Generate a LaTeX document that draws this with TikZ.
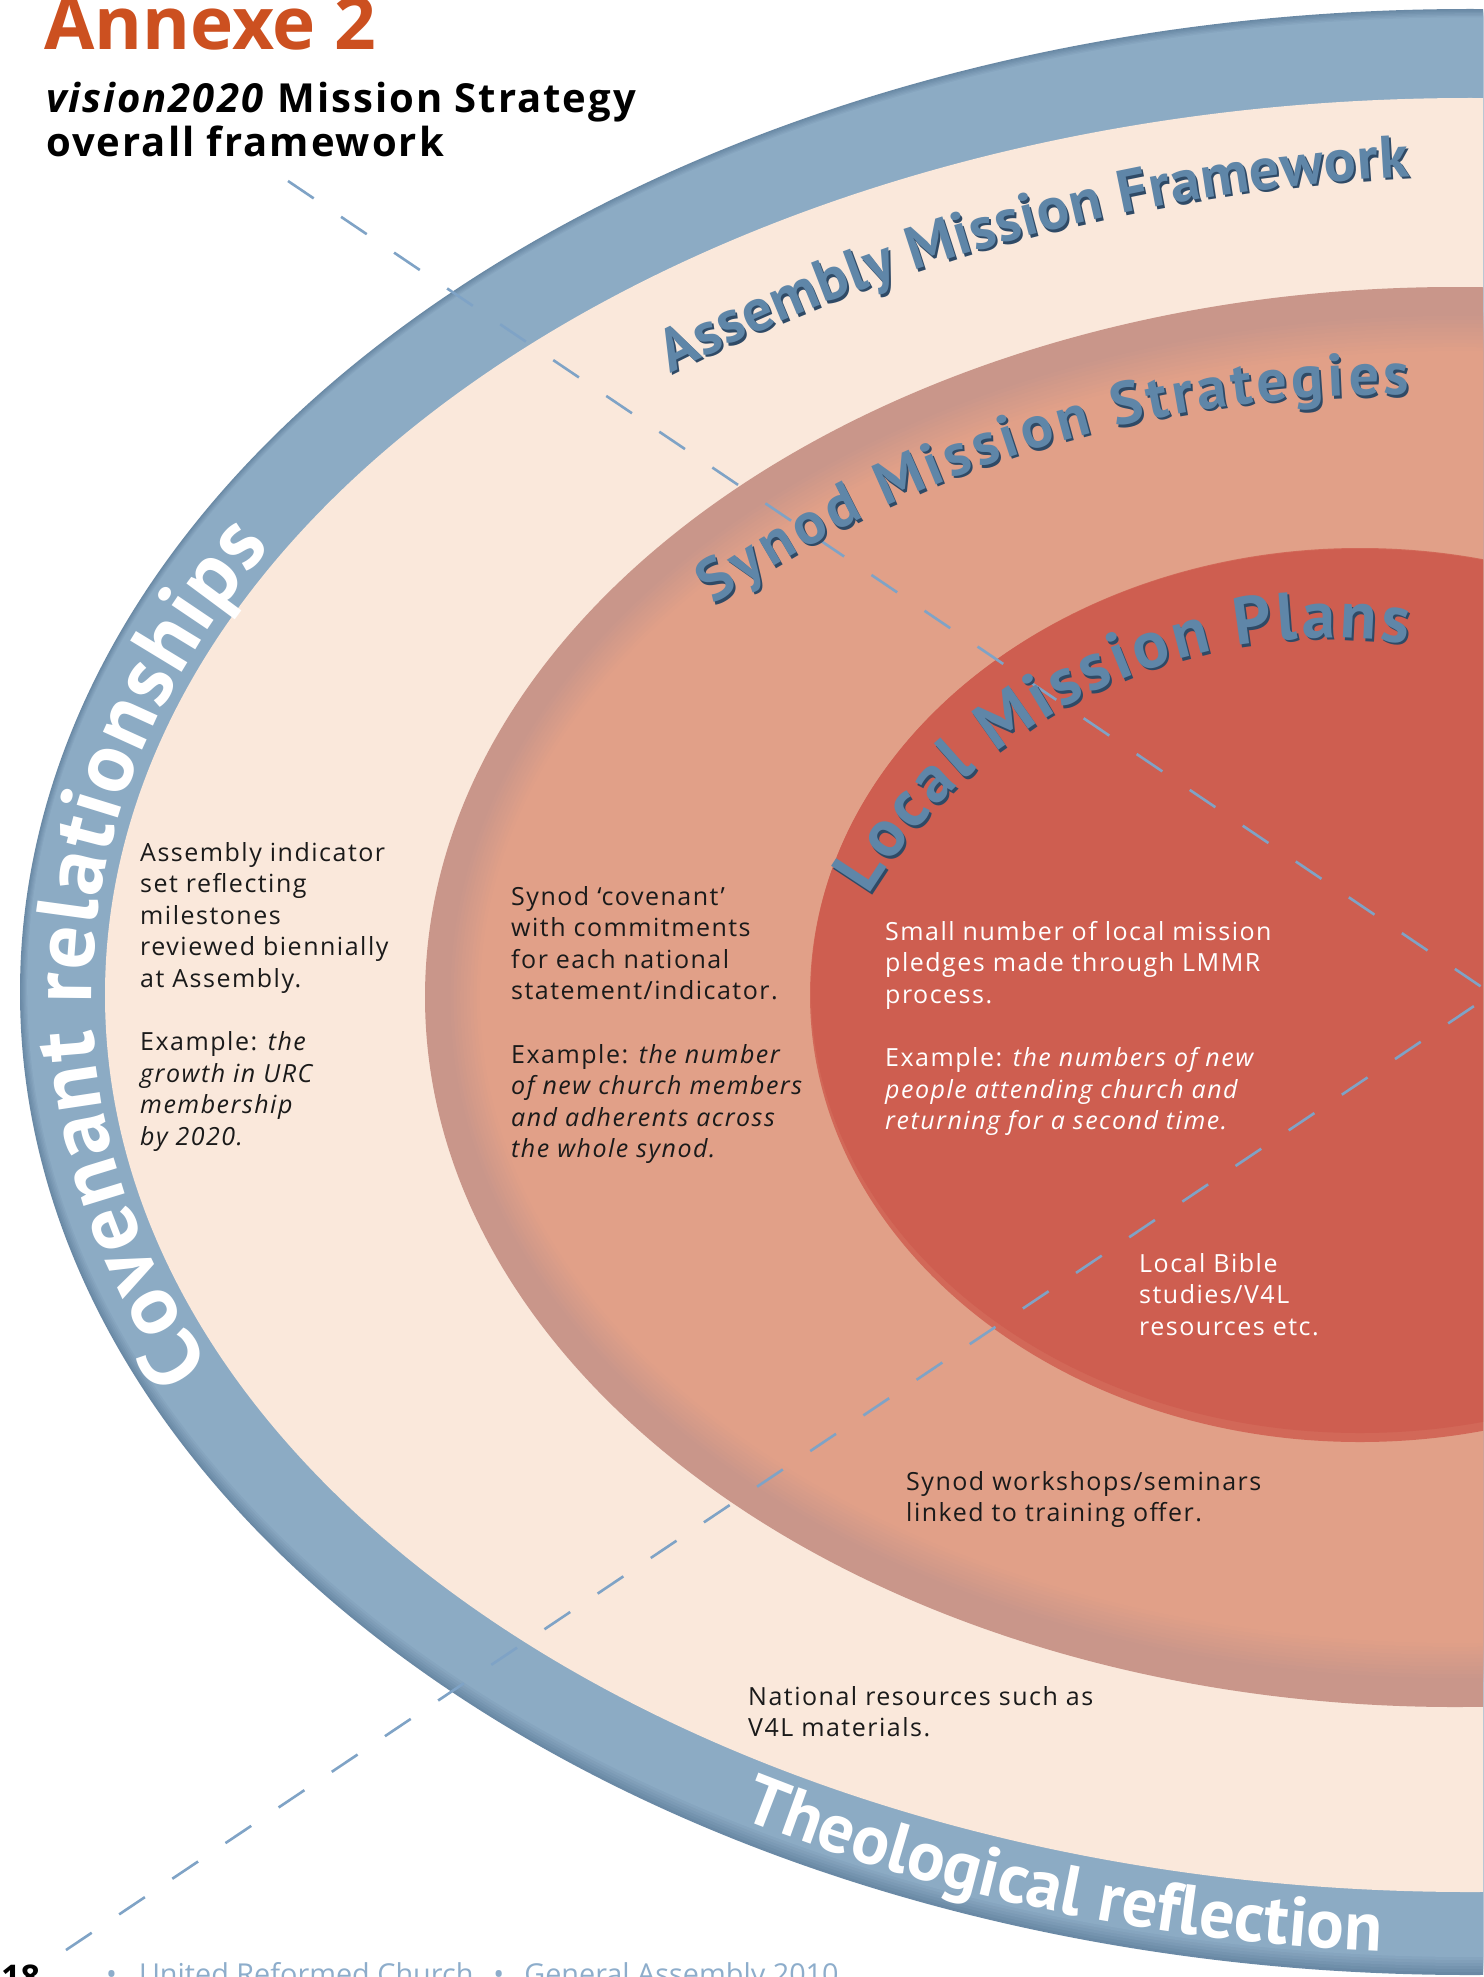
\documentclass[tikz,border=0pt]{standalone}
\usepackage{fontspec}
\setmainfont{Open Sans}
\newfontfamily\ringfont{PT Sans}
\newfontfamily\subfam[LetterSpace=5]{Open Sans}
\newfontfamily\bodyfam[LetterSpace=6]{Open Sans}
\usetikzlibrary{decorations.text}

\definecolor{bluedark}{HTML}{6A89A5}
\definecolor{bandblue}{HTML}{8CABC4}
\definecolor{cream}{HTML}{FAE8DB}
\definecolor{salrim}{HTML}{C9968A}
\definecolor{salface}{HTML}{E1A088}
\definecolor{redrim}{HTML}{D26858}
\definecolor{redface}{HTML}{CE5E50}
\definecolor{dashblue}{HTML}{7FA3C6}
\definecolor{labelblue}{HTML}{5F86A8}
\definecolor{labelshadow}{HTML}{2F4A66}
\definecolor{titleorange}{HTML}{CC5020}
\definecolor{textblack}{HTML}{1A1A1A}
\definecolor{footblue}{HTML}{8DADCB}

\newcommand\labfont{\ringfont\bfseries\fontsize{60}{66}\selectfont}
\newcommand\locfont{\ringfont\bfseries\fontsize{67}{72}\selectfont}
\newcommand\covfont{\ringfont\bfseries\fontsize{86}{90}\selectfont}
\newcommand\theofont{\ringfont\bfseries\fontsize{70}{74}\selectfont}
\newcommand\embosslabel[3]{%
  \begin{scope}[shift={(2,2.5)}]
    \path[decorate,decoration={text along path,text align=fit to path,text color=labelshadow,text={|#3|#2}}] #1;
  \end{scope}
  \path[decorate,decoration={text along path,text align=fit to path,text color=labelblue,text={|#3|#2}}] #1;}

\tikzset{
  guide/.style={draw=dashblue, line width=2.6pt, dash pattern=on 31pt off 33pt},
  body/.style={anchor=base west, inner sep=0pt, font=\bodyfam\fontsize{25}{31.6}\selectfont, text=textblack},
  bodywhite/.style={body, text=white},
}

\begin{document}
\begin{tikzpicture}[x=1pt,y=-1pt]
\useasboundingbox (0,0) rectangle (1483,1977);
\clip (0,0) rectangle (1483,1977);
\fill[white] (0,0) rectangle (1483,1977);

% outer blue band
\fill[bluedark] (1470,992) ellipse[x radius=1450, y radius=983];
\foreach \i in {1,...,6}{
  \pgfmathtruncatemacro\p{\i*100/6}
  \fill[bandblue!\p!bluedark] (1470,{992-0.8*\i}) ellipse[x radius={1450-1.2*\i}, y radius={983-2.2*\i}];
}
% cream ring
\fill[cream] (1470,995) ellipse[x radius=1365, y radius=897];
% salmon ring with bevel
\fill[salrim] (1455,997) ellipse[x radius=1030, y radius=710];
\foreach \i in {0,...,10}{
  \pgfmathtruncatemacro\p{\i*10}
  \fill[salface!\p!salrim] (1455,997) ellipse[x radius={1008-3.3*\i}, y radius={685-3.9*\i}];
}
% red core
\fill[redrim] (1360,995) ellipse[x radius=550, y radius=447];
\fill[redface] (1360,991) ellipse[x radius=549, y radius=442];

% dashed guides
\coordinate (dashA) at (288,181);
\coordinate (dashV) at (1492,994);
\coordinate (dashB) at (66,1950);
\draw[guide] (dashA) -- (dashV);
\draw[guide] (dashB) -- (dashV);

% curved ring labels
\embosslabel{(1502,2009) ++(-116.96:1835) arc[start angle=-116.96, end angle=-92.9, radius=1835]}{Assembly Mission Framework}{\labfont}
\embosslabel{(1390,1589) ++(-124.5:1194) arc[start angle=-124.5, end angle=-89.1, radius=1194]}{Synod Mission Strategies}{\labfont}
\embosslabel{(1330,1180) ++(-148.4:542) arc[start angle=-148.4, end angle=-81.8, radius=542]}{Local Mission Plans}{\locfont}

\path[decorate,decoration={text along path,text align=fit to path,text color=white,text={|\covfont|Covenant relationships}}]
  (1470,995) ++(-204:1378 and 910) arc[start angle=-204, end angle=-150.5, x radius=1378, y radius=910];
\path[decorate,decoration={text along path,text align=fit to path,text color=white,text={|\theofont|Theological reflection}}]
  (1470,992) ++(-239.3:1428 and 961) arc[start angle=-239.3, end angle=-266.4, x radius=1428, y radius=961];

% body texts
\node[body] (asm) at (140,861) {\begin{tabular}[t]{@{}l@{}}Assembly indicator\\set reflecting\\milestones\\reviewed biennially\\at Assembly.\\[31.6pt]Example: \textit{the}\\\textit{growth in URC}\\\textit{membership}\\\textit{by 2020.}\end{tabular}};
\node[body] (syn) at (511,905) {\begin{tabular}[t]{@{}l@{}}Synod ‘covenant’\\with commitments\\for each national\\statement/indicator.\\[31.6pt]Example: \textit{the number}\\\textit{of new church members}\\\textit{and adherents across}\\\textit{the whole synod.}\end{tabular}};
\node[bodywhite] (loc) at (885,940) {\begin{tabular}[t]{@{}l@{}}Small number of local mission\\pledges made through LMMR\\process.\\[31.6pt]Example: \textit{the numbers of new}\\\textit{people attending church and}\\\textit{returning for a second time.}\end{tabular}};
\node[bodywhite] (bible) at (1139,1272) {\begin{tabular}[t]{@{}l@{}}Local Bible\\studies/V4L\\resources etc.\end{tabular}};
\node[body] (work) at (906,1490) {\begin{tabular}[t]{@{}l@{}}Synod workshops/seminars\\linked to training offer.\end{tabular}};
\node[body] (nat) at (748,1705) {\begin{tabular}[t]{@{}l@{}}National resources such as\\V4L materials.\end{tabular}};

% title
\node[anchor=base west, inner sep=0pt, text=titleorange, font=\fontsize{73}{73}\selectfont\bfseries] (title) at (44,50) {Annexe 2};
\node[anchor=base west, inner sep=0pt, font=\subfam\bfseries\fontsize{40}{43}\selectfont] (sub) at (46,113) {\begin{tabular}[t]{@{}l@{}}\textit{vision2020} Mission Strategy\\overall framework\end{tabular}};

% footer
\node[anchor=base west, inner sep=0pt, font=\fontsize{34}{34}\selectfont\bfseries] (page) at (1,1989) {18};
\node[anchor=base west, inner sep=0pt, text=footblue, font=\fontsize{28.8}{30}\selectfont] (foot) at (106,1984) {•\hspace{22pt}United Reformed Church\hspace{20pt}•\hspace{20pt}General Assembly 2010};
\end{tikzpicture}
\end{document}
